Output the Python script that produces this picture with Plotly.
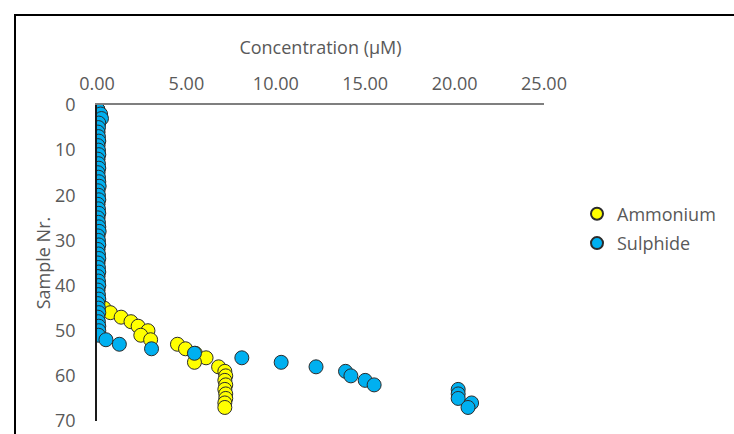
import plotly.graph_objects as go

# Sample numbers
samples = list(range(1, 68))

# Ammonium concentration (µM) per sample 1..67
ammonium = [0.05] * 44 + [
    0.40, 0.75, 1.35, 1.90, 2.30, 2.85, 2.45, 3.00,   # 45-52
    4.50, 4.95, 5.50, 6.10, 5.45, 6.80, 7.15, 7.20,   # 53-60
    7.15, 7.20, 7.15, 7.20, 7.20, 7.15, 7.15          # 61-67
]

# Sulphide concentration (µM) per sample 1..67
sulphide = [
    0.05, 0.20, 0.25, 0.10, 0.08, 0.05, 0.08, 0.10, 0.05, 0.08,
    0.10, 0.05, 0.08, 0.10, 0.05, 0.08, 0.10, 0.12, 0.05, 0.08,
    0.10, 0.05, 0.08, 0.10, 0.05, 0.08, 0.10, 0.12, 0.05, 0.08,
    0.10, 0.05, 0.08, 0.10, 0.05, 0.08, 0.10, 0.05, 0.08, 0.10,
    0.05, 0.08, 0.10, 0.05, 0.08, 0.10, 0.05, 0.08, 0.10, 0.10,
    0.08,                                              # 51
    0.50, 1.25, 3.05, 5.45, 8.10, 10.30, 12.25, 13.90, 14.20,
    15.00, 15.50, 20.20, 20.20, 20.20, 20.95, 20.75      # 52-67
]

x_ticks = [0, 5, 10, 15, 20, 25]
x_tick_labels = ["0.00", "5.00", "10.00", "15.00", "20.00", "25.00"]
y_ticks = [0, 10, 20, 30, 40, 50, 60, 70]

FONT = "Open Sans, sans-serif"
GRAY = "#595959"
FS = 18

fig = go.Figure()
fig.add_trace(go.Scatter(
    x=ammonium, y=samples, mode="markers", name="Ammonium", legendgroup="a",
    marker=dict(color="#FFFF00", size=14, line=dict(color="#2b2b2b", width=1)),
))
fig.add_trace(go.Scatter(
    x=sulphide, y=samples, mode="markers", name="Sulphide", legendgroup="s",
    marker=dict(color="#00B0F0", size=14, line=dict(color="#2b2b2b", width=1)),
))

W, H = 734, 434          # final size (after the body margin is removed)
L, T = 97, 105
R = W - 544
B = H - 421
pw, ph = W - L - R, H - T - B

def px_x(p):
    return (p - L) / pw

def px_y(p):
    return (H - B - p) / ph

frame_line = dict(color="black", width=2)

fig.update_layout(
    # start small enough to fit inside the default 8px body margin,
    # then grow to the full window once the margin is removed
    width=W - 16, height=H - 16,
    margin=dict(l=L, r=R, t=T, b=B, autoexpand=False),
    paper_bgcolor="white", plot_bgcolor="white",
    font=dict(family=FONT, size=FS, color=GRAY),
    showlegend=True,
    legend=dict(x=px_x(577), y=px_y(228.5), xanchor="left", yanchor="middle",
                font=dict(family=FONT, size=FS, color=GRAY),
                itemsizing="constant", tracegroupgap=3,
                bgcolor="rgba(0,0,0,0)"),
    xaxis=dict(
        side="top", range=[0, 25], tickvals=x_ticks, ticktext=x_tick_labels,
        showgrid=False, zeroline=False, showline=True, linecolor="#7f7f7f",
        linewidth=1.5, ticks="", ticklabelstandoff=6,
        tickfont=dict(family=FONT, size=FS, color=GRAY),
        title=dict(text="Concentration (µM)", standoff=12,
                   font=dict(family=FONT, size=FS, color=GRAY)),
    ),
    yaxis=dict(
        range=[70, 0], tickvals=y_ticks, showgrid=False, zeroline=False,
        showline=True, linecolor="#1a1a1a", linewidth=1.5, ticks="",
        ticklabelstandoff=16,
        tickfont=dict(family=FONT, size=FS, color=GRAY),
        title=dict(text="Sample Nr.", standoff=0,
                   font=dict(family=FONT, size=FS, color=GRAY)),
    ),
    shapes=[
        dict(type="line", xref="paper", yref="paper",
             x0=px_x(14), x1=px_x(800), y0=px_y(15), y1=px_y(15),
             line=frame_line, layer="below"),
        dict(type="line", xref="paper", yref="paper",
             x0=px_x(15), x1=px_x(15), y0=px_y(14), y1=px_y(500),
             line=frame_line, layer="below"),
    ],
)

post = (
    "document.body.style.margin='0';"
    "document.body.style.overflow='hidden';"
    "var gd=document.getElementById('{plot_id}');"
    "Plotly.relayout(gd,{width:%d,height:%d});" % (W, H)
)

fig.write_html("out.html", config={"displayModeBar": False}, post_script=post)
